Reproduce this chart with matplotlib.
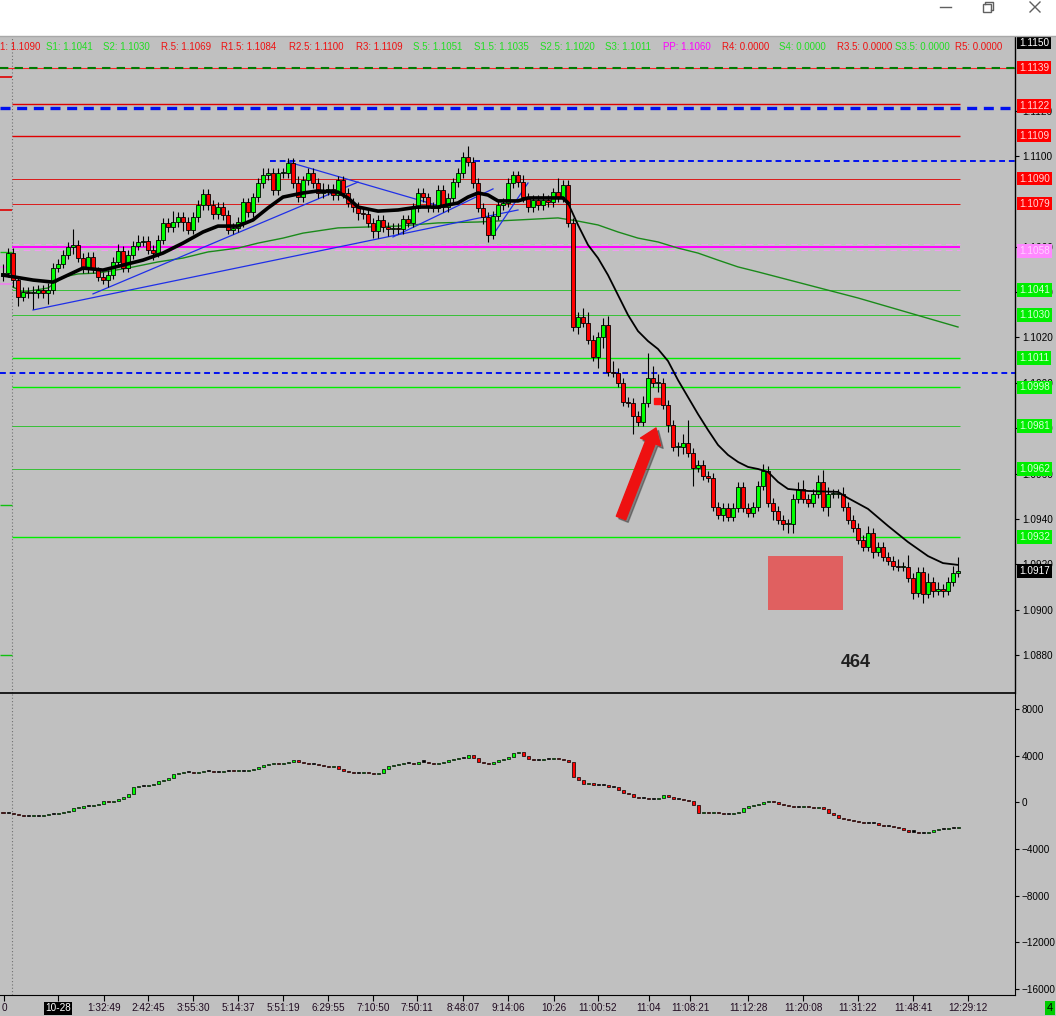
import numpy as np
import matplotlib.pyplot as plt
from matplotlib.patches import Rectangle, FancyArrowPatch
from matplotlib.transforms import blended_transform_factory
from matplotlib.ticker import FormatStrFormatter

plt.rcParams['font.family'] = ['Liberation Sans', 'DejaVu Sans']

# ---- price bars (close of each bar, open = previous close) ----
first_open = 1.1047
closes = [
    1.10485, 1.10573, 1.10454, 1.10379, 1.10401, 1.10396, 1.10396, 1.10410, 1.10396, 1.10410, 1.10507, 1.10524,
    1.10564, 1.10599, 1.10608, 1.10551, 1.10502, 1.10555, 1.10502, 1.10467, 1.10454, 1.10476, 1.10533, 1.10581,
    1.10507, 1.10564, 1.10604, 1.10621, 1.10626, 1.10586, 1.10573, 1.10630, 1.10705, 1.10687, 1.10709, 1.10731,
    1.10709, 1.10674, 1.10731, 1.10784, 1.10833, 1.10784, 1.10744, 1.10775, 1.10740, 1.10674, 1.10683, 1.10709,
    1.10797, 1.10753, 1.10819, 1.10881, 1.10916, 1.10925, 1.10850, 1.10925, 1.10925, 1.10969, 1.10881, 1.10819,
    1.10894, 1.10925, 1.10881, 1.10837, 1.10850, 1.10855, 1.10828, 1.10894, 1.10837, 1.10793, 1.10775, 1.10749,
    1.10744, 1.10705, 1.10670, 1.10718, 1.10687, 1.10678, 1.10683, 1.10678, 1.10722, 1.10705, 1.10771, 1.10837,
    1.10819, 1.10775, 1.10771, 1.10850, 1.10775, 1.10815, 1.10885, 1.10925, 1.10996, 1.10974, 1.10881, 1.10771,
    1.10731, 1.10652, 1.10736, 1.10784, 1.10793, 1.10881, 1.10916, 1.10885, 1.10819, 1.10775, 1.10806, 1.10784,
    1.10806, 1.10797, 1.10841, 1.10819, 1.10872, 1.10705, 1.10247, 1.10291, 1.10264, 1.10189, 1.10115, 1.10203,
    1.10256, 1.10048, 1.10044, 1.10000, 1.09916, 1.09912, 1.09855, 1.09828, 1.09912, 1.10022, 1.10000, 1.10000,
    1.09903, 1.09815, 1.09718, 1.09718, 1.09736, 1.09692, 1.09626, 1.09639, 1.09590, 1.09581, 1.09454, 1.09419,
    1.09449, 1.09410, 1.09449, 1.09542, 1.09449, 1.09427, 1.09454, 1.09546, 1.09612, 1.09471, 1.09436, 1.09396,
    1.09379, 1.09379, 1.09489, 1.09533, 1.09489, 1.09471, 1.09511, 1.09564, 1.09454, 1.09511, 1.09511, 1.09511,
    1.09454, 1.09396, 1.09361, 1.09308, 1.09278, 1.09339, 1.09256, 1.09278, 1.09233, 1.09216, 1.09194, 1.09189,
    1.09189, 1.09141, 1.09075, 1.09167, 1.09070, 1.09123, 1.09084, 1.09093, 1.09084, 1.09123, 1.09163, 1.09170,
]
# wick lengths beyond the body, in pips
wick_hi = [
    4, 2, 2, 1, 2, 2, 3, 2, 2, 3, 2, 2,  2, 2, 7, 2, 2, 2, 2, 1, 2, 2, 2, 3,
    2, 2, 2, 3, 2, 2, 2, 2, 2, 2, 5, 2,  2, 2, 2, 2, 2, 2, 2, 2, 2, 2, 2, 2,
    2, 2, 2, 2, 3, 2, 2, 2, 2, 2, 2, 3,  2, 2, 2, 2, 3, 2, 2, 2, 2, 2, 2, 2,
    2, 2, 2, 2, 2, 2, 2, 2, 2, 2, 2, 2,  2, 2, 2, 2, 2, 2, 2, 2, 2, 5, 2, 2,
    2, 2, 2, 2, 2, 2, 2, 2, 3, 2, 2, 2,  3, 2, 2, 6, 2, 2, 2, 2, 4, 5, 2, 2,
    3, 4, 5, 2, 2, 2, 2, 2, 3, 11, 5, 4,  2, 2, 2, 2, 4, 10, 2, 2, 2, 2, 2, 2,
    2, 2, 2, 2, 2, 2, 2, 2, 3, 2, 2, 2,  2, 2, 2, 3, 4, 2, 2, 3, 5, 3, 2, 2,
    3, 2, 2, 2, 2, 3, 2, 2, 2, 2, 2, 3,  2, 5, 2, 2, 2, 4, 2, 3, 2, 2, 3, 6,
]
wick_lo = [
    2, 2, 3, 4, 2, 2, 7, 2, 2, 5, 2, 2,  2, 2, 3, 2, 2, 2, 2, 2, 2, 3, 2, 2,
    2, 2, 2, 2, 2, 2, 3, 2, 2, 2, 2, 2,  4, 2, 2, 2, 2, 2, 2, 2, 2, 2, 2, 2,
    2, 2, 2, 2, 2, 2, 2, 2, 2, 2, 2, 2,  2, 2, 2, 2, 2, 2, 2, 2, 2, 2, 2, 3,
    2, 2, 3, 3, 2, 3, 2, 2, 2, 2, 2, 2,  2, 2, 2, 2, 2, 2, 2, 2, 2, 2, 2, 2,
    3, 3, 2, 2, 2, 2, 2, 2, 2, 2, 2, 2,  2, 2, 2, 2, 2, 2, 2, 3, 2, 2, 2, 5,
    5, 2, 2, 2, 2, 2, 8, 2, 2, 2, 2, 4,  2, 3, 2, 4, 3, 2, 8, 2, 2, 2, 2, 2,
    3, 2, 2, 2, 2, 2, 2, 2, 2, 2, 4, 2,  3, 4, 4, 2, 2, 2, 2, 2, 2, 4, 2, 2,
    2, 2, 2, 2, 2, 2, 3, 2, 2, 2, 2, 2,  2, 2, 3, 2, 4, 2, 3, 2, 3, 2, 2, 2,
]

# ---- lower panel oscillator (close per bar) ----
osc_first_open = -800
osc = [
    -900, -900, -1000, -1100, -1200, -1200, -1150, -1150, -1100, -1000, -1000, -900,
    -800, -700, -500, -450, -350, -350, -200, -100, 100, 0, 150, 300,
    500, 700, 1300, 1400, 1400, 1500, 1600, 1800, 1900, 2100, 2400, 2500,
    2600, 2600, 2500, 2600, 2700, 2700, 2600, 2600, 2700, 2700, 2650, 2700,
    2700, 2800, 2900, 3000, 3200, 3300, 3400, 3300, 3400, 3500, 3600, 3500,
    3400, 3300, 3300, 3200, 3100, 3000, 3100, 2900, 2700, 2600, 2500, 2500,
    2600, 2500, 2400, 2500, 2900, 3100, 3200, 3300, 3400, 3400, 3300, 3500,
    3500, 3400, 3300, 3400, 3500, 3600, 3700, 3800, 3800, 4100, 3800, 3500,
    3400, 3300, 3500, 3600, 3700, 3900, 4200, 4300, 4000, 3700, 3600, 3600,
    3700, 3700, 3800, 3700, 3600, 3500, 2200, 1900, 1600, 1700, 1500, 1500,
    1500, 1300, 1300, 1100, 800, 700, 500, 400, 400, 300, 300, 350,
    600, 500, 300, 300, 200, 100, -200, -900, -800, -900, -800, -900,
    -1000, -1000, -900, -800, -500, -300, -200, -100, 0, 100, 0, -100,
    -200, -300, -400, -400, -300, -400, -500, -400, -600, -900, -1100, -1300,
    -1400, -1500, -1600, -1700, -1800, -1800, -1800, -1900, -2000, -2000, -2100, -2200,
    -2400, -2500, -2500, -2600, -2600, -2500, -2400, -2300, -2300, -2200, -2200, -2100,
]

# ---- moving averages (bar index, price) ----
ma_fast_idx = [0, 6, 10, 13, 16, 20, 24, 28, 32, 36, 40, 43, 47, 50, 53, 56, 60, 63, 67, 69, 71,
               75, 79, 83, 87, 91, 93, 95, 97, 99, 103, 105, 109, 112, 113, 115, 117, 119, 121,
               123, 125, 127, 129, 131, 133, 135, 137, 139, 141, 143, 145, 147, 149, 151, 153,
               155, 157, 161, 167, 169, 173, 177, 181, 185, 188, 191]
ma_fast = [1.10475, 1.10453, 1.10444, 1.10475, 1.10506, 1.10497, 1.10519, 1.10541, 1.10572,
           1.10616, 1.10665, 1.10691, 1.10691, 1.10718, 1.10771, 1.10819, 1.10837, 1.10846,
           1.10841, 1.10815, 1.10775, 1.10757, 1.10762, 1.10775, 1.10775, 1.10793, 1.10819,
           1.10837, 1.10828, 1.10802, 1.10802, 1.10815, 1.10815, 1.10815, 1.10793, 1.10696,
           1.10608, 1.10550, 1.10475, 1.10387, 1.10299, 1.10228, 1.10184, 1.10149, 1.10096,
           1.10012, 1.09937, 1.09862, 1.09792, 1.09726, 1.09682, 1.09651, 1.09629, 1.09620,
           1.09607, 1.09563, 1.09532, 1.09523, 1.09519, 1.09492, 1.09444, 1.09369, 1.09298,
           1.09236, 1.09205, 1.09197]
ma_slow_idx = [2, 4, 9, 12, 15, 19, 25, 31, 36, 41, 47, 51, 56, 60, 67, 79, 87, 95, 103, 111,
               115, 119, 123, 127, 131, 135, 139, 143, 147, 151, 171, 191]
ma_slow = [1.10422, 1.10400, 1.10418, 1.10466, 1.10480, 1.10484, 1.10506, 1.10533, 1.10550,
           1.10577, 1.10594, 1.10616, 1.10638, 1.10660, 1.10683, 1.10691, 1.10705, 1.10709,
           1.10718, 1.10727, 1.10713, 1.10696, 1.10665, 1.10638, 1.10621, 1.10594, 1.10572,
           1.10541, 1.10511, 1.10489, 1.10374, 1.10246]

# ---- hand drawn trend lines (bar index, price) ----
trend_x0 = [6, 18, 57, 78, 98]
trend_p0 = [1.10321, 1.10392, 1.10974, 1.10643, 1.10652]
trend_x1 = [103, 71, 88, 98, 105]
trend_p1 = [1.10762, 1.10885, 1.10775, 1.10855, 1.10881]

# ---- levels ----
red_levels = [1.1123, 1.1109, 1.1090, 1.1079]
green_levels = [1.1041, 1.1030, 1.1011, 1.0998, 1.0981, 1.0962, 1.0932]
pivot_level = 1.1060
top_level = 1.1139
blue_levels = [1.1121, 1.10978, 1.10043]
prev_day_red = [1.11348, 1.10762]
prev_day_pink = [1.10511, 1.10436]
prev_day_green = [1.10577, 1.09461, 1.08800]

label_prices = [1.1150, 1.1139, 1.1122, 1.1109, 1.1090, 1.1079, 1.1058, 1.1041, 1.1030,
                1.1011, 1.0998, 1.0981, 1.0962, 1.0932, 1.0917]
label_kind = ['k', 'r', 'r', 'r', 'r', 'r', 'm', 'g', 'g', 'g', 'g', 'g', 'g', 'g', 'k']
axis_ticks = [1.1120, 1.1100, 1.1060, 1.1040, 1.1020, 1.1000, 1.0980, 1.0960, 1.0940,
              1.0920, 1.0900, 1.0880]

header_names = ['R1', 'S1', 'S2', 'R.5', 'R1.5', 'R2.5', 'R3', 'S.5', 'S1.5', 'S2.5', 'S3', 'PP',
                'R4', 'S4', 'R3.5', 'S3.5', 'R5']
header_vals = [1.1090, 1.1041, 1.1030, 1.1069, 1.1084, 1.1100, 1.1109, 1.1051, 1.1035, 1.1020,
               1.1011, 1.1060, 0.0, 0.0, 0.0, 0.0, 0.0]

time_labels = ['0', '10-28', '1:32:49', '2:42:45', '3:55:30', '5:14:37', '5:51:19', '6:29:55',
               '7:10:50', '7:50:11', '8:48:07', '9:14:06', '10:26', '11:00:52', '11:04',
               '11:08:21', '11:12:28', '11:20:08', '11:31:22', '11:48:41', '12:29:12']
time_px = [4, 58, 104, 148, 193, 238, 283, 328, 373, 417, 463, 508, 554, 598, 649, 690,
           748, 803, 858, 913, 968]

# ---- layout ----
W, H = 1056, 1016
BG = '#c0c0c0'
UP, DN = '#00ff00', '#ff0000'


def px_box(x0, y0, x1, y1):
    return [x0 / W, 1 - y1 / H, (x1 - x0) / W, (y1 - y0) / H]


fig = plt.figure(figsize=(W / 100, H / 100), dpi=100, facecolor=BG)
ax = fig.add_axes(px_box(0, 37, 1015, 693), facecolor=BG)
ax2 = fig.add_axes(px_box(0, 694, 1015, 995), facecolor=BG)

XL = (-0.6, 202.4)
x_sep = 1.8
x_end = 191.4

# candles
c = np.array(closes)
o = np.r_[first_open, c[:-1]]
xs = np.arange(len(c))
top = np.maximum(o, c)
bot = np.minimum(o, c)
hi = top + np.array(wick_hi) * 1e-4
lo = bot - np.array(wick_lo) * 1e-4
ax.vlines(xs, lo, hi, color='black', lw=0.8, zorder=4)
ax.bar(xs, np.maximum(top - bot, 0.00004), bottom=bot, width=0.72,
       color=[UP if cc >= oo else DN for oo, cc in zip(o, c)],
       edgecolor='black', linewidth=0.6, zorder=5)

# moving averages
ax.plot(ma_slow_idx, ma_slow, color='#1a8a1a', lw=1.0, zorder=3)
ax.plot(ma_fast_idx, ma_fast, color='black', lw=1.3, zorder=6)
k = ma_fast_idx.index(113) + 1
ax.plot(ma_fast_idx[:k], ma_fast[:k], color='black', lw=2.6, zorder=6)

# trend lines
for a0, b0, a1, b1 in zip(trend_x0, trend_p0, trend_x1, trend_p1):
    ax.plot([a0, a1], [b0, b1], color='#1f2fe8', lw=0.9, zorder=3)

# level lines
ax.hlines(top_level, *XL, color='#ff2020', lw=0.8, zorder=2)
ax.hlines(top_level, *XL, color='#007a00', lw=1.5, linestyles=(0, (4, 3)), zorder=2)
for p in red_levels:
    ax.hlines(p, x_sep, x_end, color='#e00000', lw=1.0 if p > 1.1100 else 0.6, zorder=2)
for p in green_levels:
    strong = p in (1.1011, 1.0998, 1.0932)
    ax.hlines(p, x_sep, x_end, color='#00ee00' if strong else '#20c020',
              lw=1.0 if strong else 0.6, zorder=2)
ax.hlines(pivot_level, x_sep, x_end, color='#ff00ff', lw=1.4, zorder=2)
for d in (-0.00013, 0.00013):
    ax.hlines(pivot_level + d, x_sep, x_end, color='#f09cf0', lw=0.8,
              linestyles=(0, (6, 4)), zorder=2)
ax.hlines(blue_levels[0], *XL, color='#0010f0', lw=2.4, linestyles=(0, (3, 2)), zorder=2)
ax.hlines(blue_levels[1], 53.4, XL[1], color='#0010f0', lw=1.4, linestyles=(0, (3, 2)), zorder=2)
ax.hlines(blue_levels[2], *XL, color='#0010f0', lw=1.4, linestyles=(0, (3, 2)), zorder=2)
for p in prev_day_red:
    ax.hlines(p, XL[0], x_sep, color='#e00000', lw=1.2)
for p in prev_day_pink:
    ax.hlines(p, XL[0], x_sep, color='#f080f0', lw=1.2)
for p in prev_day_green:
    ax.hlines(p, XL[0], x_sep, color='#10c010', lw=1.0)
ax.axvline(x_sep, color='#707070', lw=0.8, ls=(0, (1, 2)), zorder=1)

# highlight zone, marker and count
ax.add_patch(Rectangle((153, 1.08998), 15, 0.00238, fc='#e06060', ec='none', zorder=7))
ax.plot([130.8], [1.09920], marker='s', ms=5, color='#ff1010', zorder=8)
ax.text(170.6, 1.08765, '464', fontsize=13, fontweight='bold', color='#202020',
        ha='center', va='center', zorder=8)

ax.set_xlim(*XL)
ax.set_ylim(1.086323, 1.115247)
ax.set_xticks([])
ax.yaxis.tick_right()
ax.set_yticks(axis_ticks)
ax.yaxis.set_major_formatter(FormatStrFormatter('%.4f'))
ax.tick_params(axis='y', labelsize=7.2, length=3, pad=2, colors='black')
for s in ('left', 'top'):
    ax.spines[s].set_visible(False)
ax.spines['right'].set_linewidth(1.0)
ax.spines['bottom'].set_linewidth(1.2)

# header pivot text
hdr_px = [40, 46, 103, 161, 221, 289, 356, 413, 474, 540, 605, 663, 722, 779, 837, 895, 955]
for name, val, xp in zip(header_names, header_vals, hdr_px):
    col = '#ff00ff' if name == 'PP' else ('#ee1111' if name.startswith('R') else '#22dd22')
    ax.text(xp / 1015, (693 - 47) / 656, f'{name}: {val:.4f}', transform=ax.transAxes,
            fontsize=7.0, color=col, ha='right' if name == 'R1' else 'left', va='center',
            clip_on=True, zorder=9)

# right side price boxes
tr = blended_transform_factory(ax.transAxes, ax.transData)
box_style = {'r': ('#ff0000', '#ffd8d8'), 'g': ('#00ee00', '#d8ffd8'),
             'm': ('#ff88ff', '#ffd0ff'), 'k': ('#000000', '#ffffff')}
for p, kd in zip(label_prices, label_kind):
    fc, tc = box_style[kd]
    ax.text(1 + 4 / 1015, p, f'{p:.4f}', transform=tr, fontsize=7.2, color=tc,
            ha='left', va='center', clip_on=False, zorder=10,
            bbox=dict(boxstyle='square,pad=0.18', fc=fc, ec='none'))

# lower oscillator
v = np.array(osc, dtype=float)
vo = np.r_[osc_first_open, v[:-1]]
vt = np.maximum(vo, v)
vb = np.minimum(vo, v)
ax2.bar(xs, np.maximum(vt - vb, 90), bottom=vb, width=0.6,
        color=[UP if cc > oo else (DN if cc < oo else 'black') for oo, cc in zip(vo, v)],
        edgecolor='black', linewidth=0.5, zorder=5)
ax2.axvline(x_sep, color='#707070', lw=0.8, ls=(0, (1, 2)), zorder=1)
ax2.set_xlim(*XL)
ax2.set_ylim(-16516, 9290)
ax2.yaxis.tick_right()
ax2.set_yticks([8000, 4000, 0, -4000, -8000, -12000, -16000])
ax2.tick_params(axis='y', labelsize=7.2, length=3, pad=2, colors='black')
ax2.set_xticks([(p - 3) / 5 for p in time_px])
ax2.set_xticklabels(time_labels, fontsize=7.2, color='#200a20')
ax2.tick_params(axis='x', length=4, pad=2)
for lab in ax2.get_xticklabels():
    if lab.get_text() == '10-28':
        lab.set_color('white')
        lab.set_bbox(dict(boxstyle='square,pad=0.15', fc='black', ec='none'))
for s in ('left', 'top'):
    ax2.spines[s].set_visible(False)

fig.text(1050 / W, 1 - 1008 / H, '4', fontsize=8, color='black', ha='center', va='center',
         bbox=dict(boxstyle='square,pad=0.2', fc='#00cc00', ec='none'))

# overlay: window bar and arrow
ov = fig.add_axes([0, 0, 1, 1], facecolor='none')
ov.set_xlim(0, W)
ov.set_ylim(H, 0)
ov.axis('off')
ov.add_patch(Rectangle((0, 0), W, 36, fc='white', ec='none'))
ov.plot([0, W], [36, 36], color='#a8a8a8', lw=1)
ov.plot([940, 951], [7, 7], color='#606060', lw=1)
ov.add_patch(Rectangle((983, 4), 8, 8, fill=False, ec='#606060', lw=1))
ov.plot([985, 985, 993, 993, 991], [4, 2, 2, 10, 10], color='#606060', lw=1)
ov.plot([1030, 1040], [2, 12], color='#606060', lw=1)
ov.plot([1030, 1040], [12, 2], color='#606060', lw=1)
for d, col, al in [(2.5, '#303030', 0.45), (0, '#ee1111', 1.0)]:
    ov.add_patch(FancyArrowPatch((621 + d, 518 + d), (656 + d, 428 + d),
                                 arrowstyle='simple,head_length=0.9,head_width=1.3,tail_width=0.6',
                                 mutation_scale=12, color=col, alpha=al, shrinkA=0, shrinkB=0,
                                 capstyle='round'))

fig.savefig('out.png', dpi=100, facecolor=BG)
